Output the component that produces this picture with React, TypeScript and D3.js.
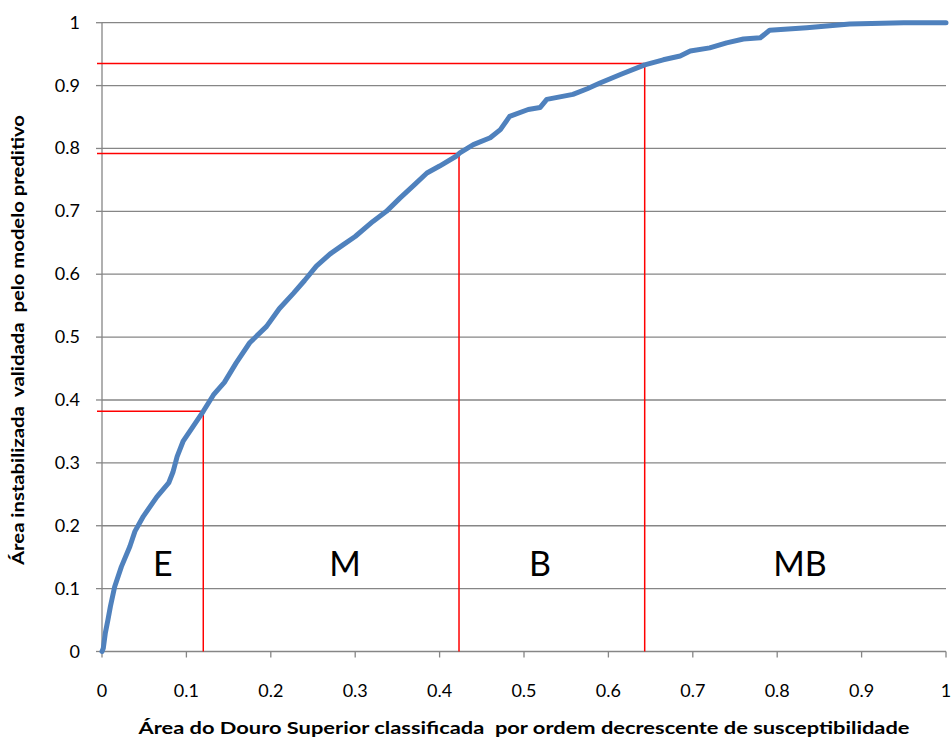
import React from "react";
import * as d3 from "d3";

const curveX = [0,0.0015,0.004,0.007,0.01,0.015,0.023,0.033,0.039,0.049,0.065,0.079,0.084,0.089,0.096,0.108,0.12,0.132,0.145,0.159,0.175,0.195,0.21,0.227,0.24,0.254,0.27,0.286,0.3,0.321,0.337,0.353,0.37,0.385,0.4,0.42,0.424,0.44,0.46,0.472,0.483,0.505,0.519,0.527,0.558,0.575,0.59,0.615,0.643,0.665,0.685,0.697,0.72,0.74,0.76,0.78,0.791,0.835,0.886,0.95,1.0];
const curveY = [0,0.005,0.03,0.05,0.072,0.103,0.135,0.167,0.191,0.215,0.246,0.268,0.285,0.31,0.334,0.358,0.382,0.408,0.428,0.459,0.491,0.517,0.545,0.57,0.59,0.613,0.632,0.647,0.66,0.684,0.7,0.721,0.742,0.761,0.772,0.788,0.793,0.806,0.817,0.83,0.851,0.862,0.865,0.878,0.886,0.895,0.904,0.918,0.933,0.941,0.947,0.955,0.96,0.968,0.974,0.976,0.988,0.992,0.998,1.0,1.0];

const thresholdX = [0.12, 0.423, 0.643];
const thresholdY = [0.382, 0.792, 0.935];

const zoneLabels = ["E", "M", "B", "MB"];
const zoneLabelX = [0.072, 0.288, 0.519, 0.827];
const zoneLabelY = 0.12;

const tickValues = [0,0.1,0.2,0.3,0.4,0.5,0.6,0.7,0.8,0.9,1];
const tickLabels = ["0","0.1","0.2","0.3","0.4","0.5","0.6","0.7","0.8","0.9","1"];

const xTitle = "Área do Douro Superior classificada  por ordem decrescente de susceptibilidade";
const yTitle = "Área instabilizada  validada  pelo modelo preditivo";

export default function App() {
  const W = 952, H = 742;
  const x = d3.scaleLinear().domain([0, 1]).range([102, 946]);
  const y = d3.scaleLinear().domain([0, 1]).range([651.5, 22.7]);
  const pts: [number, number][] = curveX.map((v, i) => [v, curveY[i]]);
  const line = d3.line<[number, number]>().x(d => x(d[0])).y(d => y(d[1]));
  const font = "Lato, 'Open Sans', sans-serif";
  const grid = "#868686";
  return (
    <svg width={W} height={H} style={{ position: "absolute", left: 0, top: 0, background: "#fff" }}>
      {tickValues.map((t, i) => (
        <line key={"g" + i} x1={x(0)} x2={x(1)} y1={y(t)} y2={y(t)} stroke={grid} strokeWidth={1.3} />
      ))}
      <line x1={x(0)} x2={x(0)} y1={y(0)} y2={y(1)} stroke={grid} strokeWidth={1.3} />
      {tickValues.map((t, i) => (
        <line key={"yt" + i} x1={x(0) - 6} x2={x(0)} y1={y(t)} y2={y(t)} stroke={grid} strokeWidth={1.3} />
      ))}
      {tickValues.map((t, i) => (
        <line key={"xt" + i} x1={x(t)} x2={x(t)} y1={y(0)} y2={y(0) + 6} stroke={grid} strokeWidth={1.3} />
      ))}
      {tickValues.map((t, i) => (
        <text key={"yl" + i} x={80} y={y(t) + 6} textAnchor="end" fontFamily={font} fontSize={18} fill="#000">{tickLabels[i]}</text>
      ))}
      {tickValues.map((t, i) => (
        <text key={"xl" + i} x={x(t)} y={697} textAnchor="middle" fontFamily={font} fontSize={18} fill="#000">{tickLabels[i]}</text>
      ))}
      {thresholdX.map((tx, i) => (
        <g key={"th" + i}>
          <line x1={x(0) - 5} x2={x(tx)} y1={y(thresholdY[i])} y2={y(thresholdY[i])} stroke="#ff0000" strokeWidth={1.5} />
          <line x1={x(tx)} x2={x(tx)} y1={y(0)} y2={y(thresholdY[i])} stroke="#ff0000" strokeWidth={1.5} />
        </g>
      ))}
      <path d={line(pts) || ""} fill="none" stroke="#4f81bd" strokeWidth={5} strokeLinejoin="round" strokeLinecap="round" />
      {zoneLabels.map((l, i) => (
        <text key={"z" + i} x={x(zoneLabelX[i])} y={y(zoneLabelY)} textAnchor="middle" fontFamily={font} fontSize={34} fill="#000">{l}</text>
      ))}
      <text x={524} y={734} textAnchor="middle" fontFamily={font} fontSize={17} fontWeight="bold" textLength={771} lengthAdjust="spacingAndGlyphs" style={{ whiteSpace: "pre" }}>{xTitle}</text>
      <text transform="translate(24,340) rotate(-90)" textAnchor="middle" fontFamily={font} fontSize={17} fontWeight="bold" textLength={450} lengthAdjust="spacingAndGlyphs" style={{ whiteSpace: "pre" }}>{yTitle}</text>
    </svg>
  );
}
